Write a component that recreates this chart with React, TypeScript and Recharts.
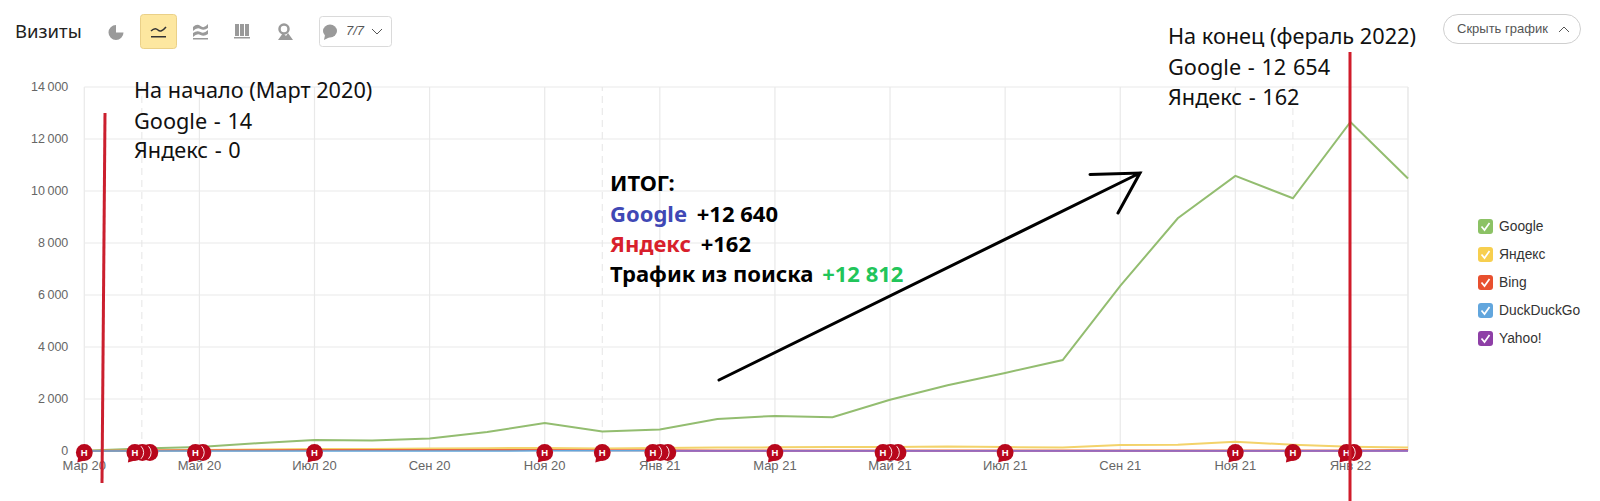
import React from "react";
import { LineChart, Line, XAxis, YAxis, CartesianGrid, ReferenceLine, Legend } from "recharts";

const months = ["Мар 20","Апр 20","Май 20","Июн 20","Июл 20","Авг 20","Сен 20","Окт 20","Ноя 20","Дек 20","Янв 21","Фев 21","Мар 21","Апр 21","Май 21","Июн 21","Июл 21","Авг 21","Сен 21","Окт 21","Ноя 21","Дек 21","Янв 22","Фев 22"];
const google = [14,100,150,300,420,400,480,730,1080,750,830,1230,1350,1300,1970,2530,3000,3500,6350,8950,10580,9720,12654,10480];
const yandex = [0,20,40,60,80,75,100,110,115,100,120,130,140,150,150,175,150,135,230,240,360,240,162,130];
const bing = [0,15,25,30,35,35,35,35,35,30,25,20,20,20,15,15,15,15,15,15,15,15,20,40];
const duckDuckGo = [0,1,2,3,3,3,4,4,5,5,5,6,6,6,6,7,7,7,8,8,8,8,8,8];
const yahoo = [null,null,null,null,null,null,null,null,null,null,0,1,2,2,2,2,3,3,3,3,3,3,3,3];
const notes = [1,3,2,0,1,0,0,0,1,1,3,0,1,0,3,0,1,0,0,0,1,1,2,0];
const dashedMonths = ["Апр 20","Дек 20","Дек 21"];
const yTicks = [0,2000,4000,6000,8000,10000,12000,14000];
const seriesNames = ["Google","Яндекс","Bing","DuckDuckGo","Yahoo!"];
const legendColors = ["#8cc265","#f7cf4f","#e8502f","#62a6dd","#8e3fa6"];
const lineColors = ["#93bd70","#f3d36a","#ea6a45","#62a6dd","#a35ab5"];

const data = months.map((m,i)=>({month:m,google:google[i],yandex:yandex[i],bing:bing[i],duck:duckDuckGo[i],yahoo:yahoo[i],note:notes[i]>0?0:null,count:notes[i]}));

const fmt = (v:number)=> v===0?"0":String(v).replace(/\B(?=(\d{3})+$)/g,"\u2009");
const RED="#b8071c";
const Bubble=({x,y,front,arc}:{x:number;y:number;front:boolean;arc:boolean})=>(
  <g>
    {front && <path d={`M${x-6} ${y+4} L${x-7} ${y+10} L${x} ${y+8} Z`} fill={RED}/>}
    <circle cx={x} cy={y} r={8.4} fill={RED}/>
    {arc && <circle cx={x} cy={y} r={8.8} fill="none" stroke="#fff" strokeWidth={0.9} strokeDasharray="14 41" strokeDashoffset={7}/>}
    {front && <text x={x} y={y+3.4} textAnchor="middle" fontSize={9.5} fontWeight={700} fontFamily="Liberation Sans" fill="#fff">Н</text>}
  </g>
);
const NoteDot=(p:any)=>{
  const {cx,cy,payload,index}=p;
  const n=payload.count;
  if(!n||cy==null) return <g key={index}/>;
  const start=n===3?-7:n===2?-4:0;
  const items=[];
  for(let k=n-1;k>=0;k--) items.push(<Bubble key={k} x={cx+start+k*7.5} y={cy+1.5} front={k===0} arc={k<n-1}/>);
  return <g key={index}>{items}</g>;
};
const LegendBox=({payload}:any)=>(
  <div style={{fontFamily:"Liberation Sans",fontSize:13.8,color:"#333"}}>
    {seriesNames.map((name,i)=>{
      const e=(payload||[]).find((x:any)=>x.value===name);
      if(!e) return null;
      return (
      <div key={name} style={{display:"flex",alignItems:"center",height:28}}>
        <svg width={15} height={15} style={{marginRight:6}}>
          <rect width={15} height={15} rx={3} fill={legendColors[i]}/>
          <path d="M3.5 7.5 L6.5 11 L11.5 4" fill="none" stroke="#fff" strokeWidth={1.7}/>
        </svg>
        {e.value}
      </div>);
    })}
  </div>
);
const hand="'Noto Sans'";
const Overlay=()=>(
  <svg width={1600} height={501} style={{position:"absolute",left:0,top:0,pointerEvents:"none"}}>
    <text x={15} y={38} fontFamily={hand} fontSize={18.5} fill="#222">Визиты</text>
    <g fill="#9a9a9a">
      <path d="M116 25 a7.5 7.5 0 1 0 7.5 7.5 h-7.5 z"/>
      <circle cx={119} cy={29} r={3} fill="#fff"/>
      <rect x={140.5} y={14.5} width={36} height={34} rx={3} fill="#fde7a0" stroke="#ead088"/>
      <path d="M151 31 q4 -4 7 -1 t8 -3" fill="none" stroke="#333" strokeWidth={1.5}/>
      <rect x={151} y={36} width={15} height={1.5} fill="#333"/>
      <path d="M193 27 q4 -4 7.5 -1 t7.5 -2 v4 q-4 3 -7.5 1 t-7.5 2 z M193 33 q4 -3 7.5 -1 t7.5 -2 v4 q-4 3 -7.5 1 t-7.5 2 z"/>
      <rect x={193} y={38} width={15} height={1.5}/>
      <rect x={235} y={24} width={4} height={12}/><rect x={240} y={24} width={4} height={12}/><rect x={245} y={24} width={4} height={12}/>
      <rect x={234} y={37} width={16} height={1.5}/>
      <circle cx={284} cy={29} r={4.5} fill="none" stroke="#9a9a9a" strokeWidth={2.5}/>
      <path d="M278 40 L283 33 L286 36 L288 33 L293 40 Z"/>
    </g>
    <rect x={319.5} y={16.5} width={72} height={30} rx={3} fill="#fff" stroke="#dadada"/>
    <ellipse cx={330} cy={31} rx={7} ry={6.5} fill="#9a9a9a"/>
    <path d="M325 35 L324 40 L330 37 Z" fill="#9a9a9a"/>
    <text x={346} y={35} fontFamily="Liberation Sans" fontSize={13} fontStyle="italic" fill="#555">7/7</text>
    <path d="M372 29 L377 34 L382 29" fill="none" stroke="#555"/>
    <rect x={1443.5} y={14.5} width={137} height={29} rx={14.5} fill="#fff" stroke="#cfcfcf"/>
    <text x={1457} y={33} fontFamily="Liberation Sans" fontSize={13} fill="#555">Скрыть график</text>
    <path d="M1559 32 L1564 27 L1569 32" fill="none" stroke="#555"/>
    <path d="M105 113 L102 483" stroke="#cb1f2e" strokeWidth={3} fill="none"/>
    <path d="M1350 52 L1350 501" stroke="#d01c2b" strokeWidth={3} fill="none"/>
    <g fontFamily={hand} fontSize={21.7} fill="#111">
      <text x={134} y={98}>На начало (Март 2020)</text>
      <text x={134} y={129} wordSpacing={1}>Google - 14</text>
      <text x={134} y={158} wordSpacing={1}>Яндекс - 0</text>
      <text x={1168} y={44}>На конец (фераль 2022)</text>
      <text x={1168} y={75} wordSpacing={1}>Google - 12 654</text>
      <text x={1168} y={105} wordSpacing={1}>Яндекс - 162</text>
    </g>
    <g fontFamily={hand} fontSize={22} fontWeight={700} fill="#000">
      <text x={610} y={191}>ИТОГ:</text>
      <text x={610} y={222}><tspan fill="#3f48b5">Google</tspan><tspan dx={4}> +12 640</tspan></text>
      <text x={610} y={252}><tspan fill="#d81f2c">Яндекс</tspan><tspan dx={4}> +162</tspan></text>
      <text x={610} y={282}>Трафик из поиска<tspan fill="#22c55a" dx={3}> +12 812</tspan></text>
    </g>
    <path d="M719 380 L1140 173 M1090 174.5 L1140 173 L1118 213" fill="none" stroke="#000" strokeWidth={3} strokeLinecap="round"/>
  </svg>
);

export default function App(){
  return (
    <div style={{position:"absolute",left:0,top:0,width:1600,height:501,overflow:"hidden",background:"#fff"}}>
      <LineChart width={1600} height={501} data={data} margin={{top:87,right:192,bottom:0,left:0}}>
        <CartesianGrid stroke="#e9e9e9" strokeWidth={1.2}/>
        {dashedMonths.map(m=><ReferenceLine key={m} x={m} stroke="#e6e6e6" strokeDasharray="7 5"/>)}
        <ReferenceLine x="Фев 22" stroke="#e9e9e9"/>
        <XAxis dataKey="month" interval={1} axisLine={false} tickLine={false} tick={{fontFamily:"Liberation Sans",fontSize:13,fill:"#666"}} tickMargin={4} height={50}/>
        <YAxis width={84.3} domain={[0,14000]} ticks={yTicks} tickFormatter={fmt} axisLine={false} tickLine={false} tick={{fontFamily:"Liberation Sans",fontSize:12.5,fill:"#666"}} tickMargin={10}/>
        <Line dataKey="google" name={seriesNames[0]} stroke={lineColors[0]} strokeWidth={2} dot={false} isAnimationActive={false}/>
        <Line dataKey="yandex" name={seriesNames[1]} stroke={lineColors[1]} strokeWidth={2} dot={false} isAnimationActive={false}/>
        <Line dataKey="bing" name={seriesNames[2]} stroke={lineColors[2]} strokeWidth={2} dot={false} isAnimationActive={false}/>
        <Line dataKey="duck" name={seriesNames[3]} stroke={lineColors[3]} strokeWidth={1.5} dot={false} isAnimationActive={false}/>
        <Line dataKey="yahoo" name={seriesNames[4]} stroke={lineColors[4]} strokeWidth={1.5} dot={false} isAnimationActive={false}/>
        <Line dataKey="note" legendType="none" stroke="none" dot={NoteDot} activeDot={false} isAnimationActive={false} connectNulls={false}/>
        <Legend layout="vertical" align="center" verticalAlign="middle" content={<LegendBox/>} wrapperStyle={{position:"absolute",left:1478,top:212,width:120}}/>
      </LineChart>
      <Overlay/>
    </div>
  );
}
